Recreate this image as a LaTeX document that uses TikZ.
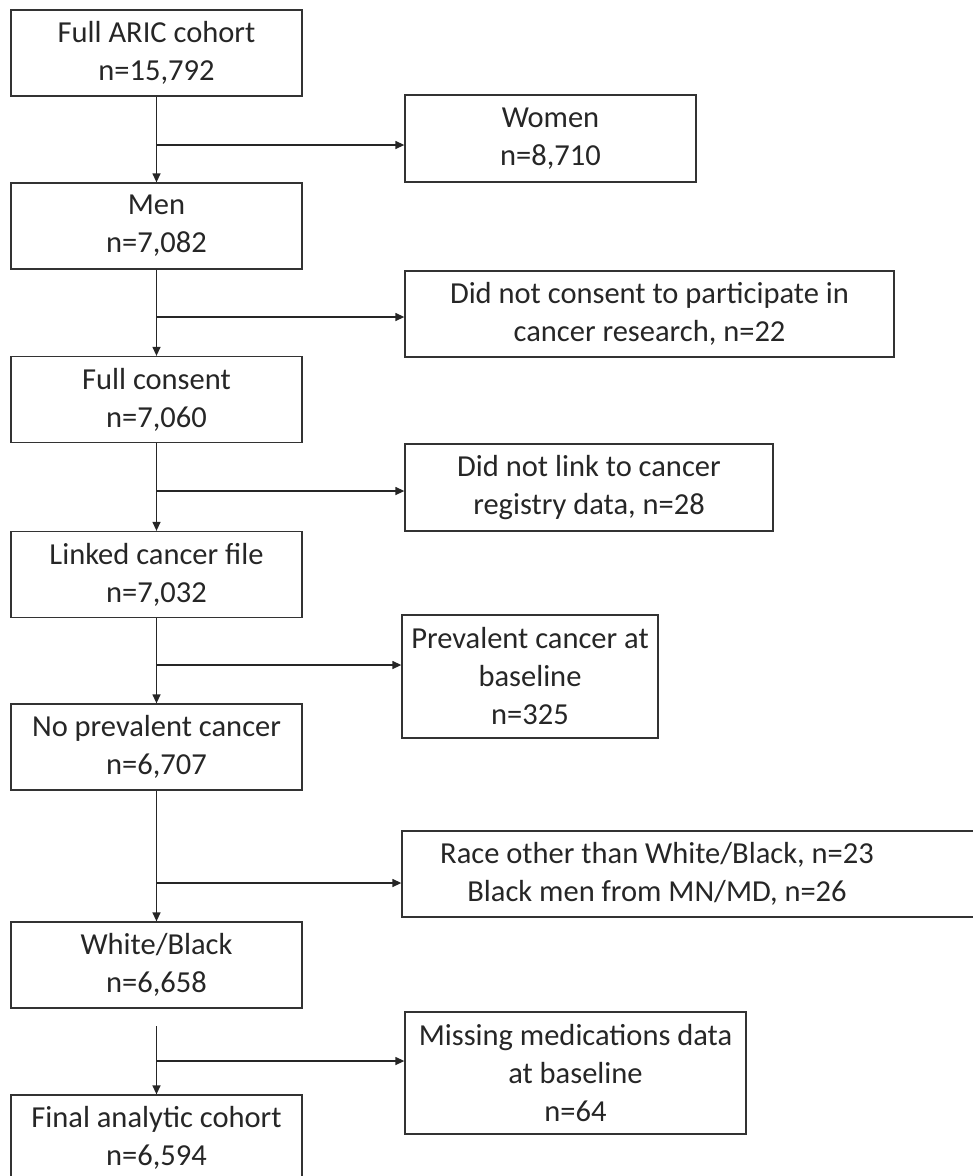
\documentclass[tikz,border=0pt]{standalone}
\usepackage{fontspec}
\setmainfont{Carlito}
\usetikzlibrary{arrows.meta}
\begin{document}
\begin{tikzpicture}[x=1pt,y=-1pt,
	box/.style={draw=black!80,line width=1.3pt,align=center,inner sep=0pt,text=black!85,
		font=\fontsize{30.5}{38}\selectfont},
	leftbox/.style={box,minimum width=291pt,minimum height=86pt},
	arr/.style={draw=black!85,line width=1.3pt,-{Triangle[length=9pt,width=8pt]}}]
	
	\useasboundingbox (0,0) rectangle (973,1176);
	
	\node[leftbox] (full) at (156.5,53) {Full ARIC cohort\\n=15,792};
	\node[leftbox] (men) at (156.5,226) {Men\\n=7,082};
	\node[leftbox] (consent) at (156.5,399.5) {Full consent\\n=7,060};
	\node[leftbox] (linked) at (156.5,574.5) {Linked cancer file\\n=7,032};
	\node[leftbox] (noprev) at (156.5,747) {No prevalent cancer\\n=6,707};
	\node[leftbox] (wb) at (156.5,965) {White/Black\\n=6,658};
	\node[leftbox] (final) at (156.5,1138) {Final analytic cohort\\n=6,594};
	
	\node[box,minimum width=291pt,minimum height=87pt] (women) at (550.5,138.5) {Women\\n=8,710};
	\node[box,minimum width=489pt,minimum height=86pt] (nocons) at (649.5,314) {Did not consent to participate in\\cancer research, n=22};
	\node[box,minimum width=368pt,minimum height=87pt] (nolink) at (589,487.5) {Did not link to cancer\\registry data, n=28};
	\node[box,minimum width=256pt,minimum height=123pt] (prev) at (530,676.5) {Prevalent cancer at\\baseline\\n=325};
	\node[box,minimum width=583pt,minimum height=86pt] (race) at (693.5,874) {};
	\node[box,draw=none] (racetxt) at (657,874) {Race other than White/Black, n=23\\Black men from MN/MD, n=26};
	\node[box,minimum width=341pt,minimum height=122pt] (miss) at (575.5,1073) {Missing medications data\\at baseline\\n=64};
	
	\foreach \a/\b in {full/men,men/consent,consent/linked,linked/noprev,noprev/wb}
		\draw[arr] (\a.south) -- (\b.north);
	\coordinate (gap) at (156.5,1026);
	\draw[arr] (gap) -- (final.north);
	
	\foreach [count=\i] \y/\r in {145/women,317/nocons,491/nolink,665/prev,883/race,1061/miss}{
		\coordinate (j\i) at (156.5,\y);
		\draw[arr] (j\i) -- (j\i -| \r.west);
	}
\end{tikzpicture}
\end{document}
